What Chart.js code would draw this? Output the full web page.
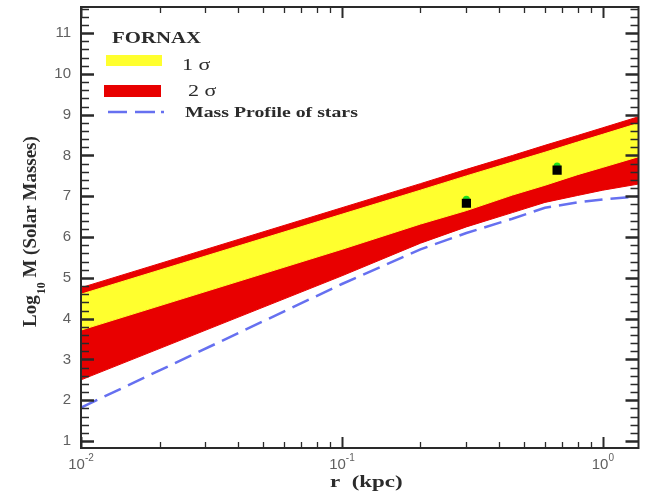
<!DOCTYPE html>
<html>
<head>
<meta charset="utf-8">
<script src="https://cdn.jsdelivr.net/npm/chart.js@4/dist/chart.umd.min.js"></script>
<style>
  body { margin: 0; background: #fff; }
  canvas { display: block; }
</style>
</head>
<body>
<canvas id="fornax" width="645" height="499"></canvas>
<script>
// radius in kpc, masses as log10(M / Msun)
const bandR = [0.01, 0.1, 0.2, 0.3, 0.45, 0.6, 0.8, 1.0, 1.37];
const sigma2Upper = [4.76, 6.72, 7.31, 7.66, 8.00, 8.25, 8.49, 8.68, 8.95];
const sigma2Lower = [2.50, 5.05, 5.85, 6.25, 6.60, 6.85, 7.02, 7.15, 7.30];
const sigma1Upper = [4.60, 6.56, 7.15, 7.50, 7.84, 8.08, 8.33, 8.52, 8.79];
const sigma1Lower = [3.72, 5.70, 6.32, 6.65, 7.03, 7.27, 7.53, 7.71, 7.97];

const starsR = [0.01, 0.1, 0.2, 0.3, 0.45, 0.6, 0.8, 1.0, 1.37];
const starsMass = [1.82, 4.85, 5.70, 6.10, 6.45, 6.72, 6.85, 6.92, 7.00];

const measuredR = [0.30, 0.668];
const measuredMass = [6.83, 7.64];
const modelMass = [6.93, 7.74];

const xTicks = [0.01, 0.1, 1];
const xTickExp = ['-2', '-1', '0'];
const yTicks = [1, 2, 3, 4, 5, 6, 7, 8, 9, 10, 11];

const RED = '#e80000';
const YELLOW = '#ffff2e';
const BLUE = '#6670f0';

const pts = (xs, ys) => xs.map((x, i) => ({ x: x, y: ys[i] }));

function stretchedText(ctx, text, x, y, font, sx) {
  ctx.save();
  ctx.translate(x, y);
  ctx.scale(sx, 1);
  ctx.font = font;
  ctx.fillText(text, 0, 0);
  ctx.restore();
}

// box frame, inward ticks on all four sides, tick labels, titles and legend
const frameAxes = {
  id: 'frameAxes',
  afterDatasetsDraw(chart) {
    const { ctx, chartArea: a, scales: { x, y } } = chart;
    ctx.save();
    ctx.strokeStyle = '#2a2a2a';
    ctx.lineCap = 'butt';

    // y ticks every 0.2
    for (let i = Math.ceil(y.min * 5); i <= Math.floor(y.max * 5); i++) {
      const py = Math.round(y.getPixelForValue(i / 5)) + 0.5;
      const major = i % 5 === 0;
      const len = major ? 13 : 8;
      ctx.lineWidth = major ? 2.5 : 1.5;
      ctx.beginPath();
      ctx.moveTo(a.left, py); ctx.lineTo(a.left + len, py);
      ctx.moveTo(a.right, py); ctx.lineTo(a.right - len, py);
      ctx.stroke();
    }

    // log x ticks
    for (let d = -2; d <= 0; d++) {
      for (let m = 1; m <= 9; m++) {
        const v = m * Math.pow(10, d);
        if (v < x.min - 1e-9 || v > x.max) continue;
        const px = Math.round(x.getPixelForValue(v)) + 0.5;
        const major = m === 1;
        const len = major ? 11 : 6;
        ctx.lineWidth = major ? 2 : 1.3;
        ctx.beginPath();
        ctx.moveTo(px, a.bottom); ctx.lineTo(px, a.bottom - len);
        ctx.moveTo(px, a.top); ctx.lineTo(px, a.top + len);
        ctx.stroke();
      }
    }

    ctx.lineWidth = 2;
    ctx.strokeRect(a.left, a.top, a.right - a.left, a.bottom - a.top);

    // tick labels
    ctx.fillStyle = '#606060';
    ctx.font = '15px "Liberation Sans"';
    ctx.textAlign = 'right';
    ctx.textBaseline = 'middle';
    yTicks.forEach(v => ctx.fillText(String(v), a.left - 10, y.getPixelForValue(v)));

    ctx.textBaseline = 'alphabetic';
    ctx.textAlign = 'left';
    xTicks.forEach((v, i) => {
      const px = x.getPixelForValue(v);
      ctx.font = '15px "Liberation Sans"';
      const wBase = ctx.measureText('10').width;
      ctx.font = '10px "Liberation Sans"';
      const wExp = ctx.measureText(xTickExp[i]).width;
      const x0 = px - (wBase + wExp) / 2;
      ctx.font = '15px "Liberation Sans"';
      ctx.fillText('10', x0, a.bottom + 21);
      ctx.font = '10px "Liberation Sans"';
      ctx.fillText(xTickExp[i], x0 + wBase, a.bottom + 13);
    });

    // axis titles
    ctx.fillStyle = '#2b2b2b';
    stretchedText(ctx, 'r  (kpc)', 330, a.bottom + 39, 'bold 17px "Liberation Serif"', 1.35);

    ctx.save();
    ctx.translate(36, 327);
    ctx.rotate(-Math.PI / 2);
    ctx.font = 'bold 19px "Liberation Serif"';
    ctx.fillText('Log', 0, 0);
    let off = ctx.measureText('Log').width + 1;
    ctx.font = 'bold 12px "Liberation Serif"';
    ctx.fillText('10', off, 9);
    off += ctx.measureText('10').width;
    ctx.font = 'bold 19px "Liberation Serif"';
    ctx.fillText(' M (Solar Masses)', off, 0);
    ctx.restore();

    // legend
    const ds = chart.data.datasets;
    stretchedText(ctx, 'FORNAX', 112, 43, 'bold 16px "Liberation Serif"', 1.3);
    ctx.fillStyle = ds[2].backgroundColor;
    ctx.fillRect(106, 55, 56, 11);
    ctx.fillStyle = ds[0].backgroundColor;
    ctx.fillRect(104, 85, 57, 12);
    ctx.strokeStyle = ds[4].borderColor;
    ctx.lineWidth = 2.5;
    ctx.beginPath();
    ctx.moveTo(108, 112); ctx.lineTo(127, 112);
    ctx.moveTo(135, 112); ctx.lineTo(155, 112);
    ctx.moveTo(161, 112); ctx.lineTo(164, 112);
    ctx.stroke();
    ctx.fillStyle = '#2b2b2b';
    stretchedText(ctx, ds[2].label, 182, 70, '17px "Liberation Serif"', 1.3);
    stretchedText(ctx, ds[0].label, 188, 96, '17px "Liberation Serif"', 1.3);
    stretchedText(ctx, ds[4].label, 185, 117, 'bold 15px "Liberation Serif"', 1.32);
    ctx.restore();
  }
};

new Chart(document.getElementById('fornax').getContext('2d'), {
  type: 'line',
  data: {
    datasets: [
      {
        label: '2 σ',
        data: pts(bandR, sigma2Upper),
        borderColor: RED,
        backgroundColor: RED,
        borderWidth: 1,
        pointRadius: 0,
        fill: '+1',
        order: 5
      },
      {
        label: '2 σ lower',
        data: pts(bandR, sigma2Lower),
        borderColor: RED,
        borderWidth: 1,
        pointRadius: 0,
        fill: false,
        order: 5
      },
      {
        label: '1 σ',
        data: pts(bandR, sigma1Upper),
        borderColor: YELLOW,
        backgroundColor: YELLOW,
        borderWidth: 1,
        pointRadius: 0,
        fill: '+1',
        order: 4
      },
      {
        label: '1 σ lower',
        data: pts(bandR, sigma1Lower),
        borderColor: YELLOW,
        borderWidth: 1,
        pointRadius: 0,
        fill: false,
        order: 4
      },
      {
        label: 'Mass Profile of stars',
        data: pts(starsR, starsMass),
        borderColor: BLUE,
        borderWidth: 2.5,
        borderDash: [18, 8],
        pointRadius: 0,
        fill: false,
        tension: 0,
        order: 3
      },
      {
        label: 'model',
        data: pts(measuredR, modelMass),
        showLine: false,
        pointStyle: 'circle',
        pointRadius: 3.5,
        pointBackgroundColor: '#1ee01e',
        pointBorderWidth: 0,
        order: 2
      },
      {
        label: 'measured',
        data: pts(measuredR, measuredMass),
        showLine: false,
        pointStyle: 'rect',
        pointRadius: 6.5,
        pointBackgroundColor: '#000',
        pointBorderWidth: 0,
        order: 1
      }
    ]
  },
  options: {
    responsive: false,
    animation: false,
    devicePixelRatio: 1,
    layout: { padding: { left: 81, right: 2, top: 7, bottom: 51 } },
    scales: {
      x: { type: 'logarithmic', min: 0.01, max: 1.37, display: false },
      y: { type: 'linear', min: 0.83, max: 11.64, display: false }
    },
    plugins: {
      legend: { display: false },
      tooltip: { enabled: false }
    }
  },
  plugins: [frameAxes]
});
</script>
</body>
</html>
